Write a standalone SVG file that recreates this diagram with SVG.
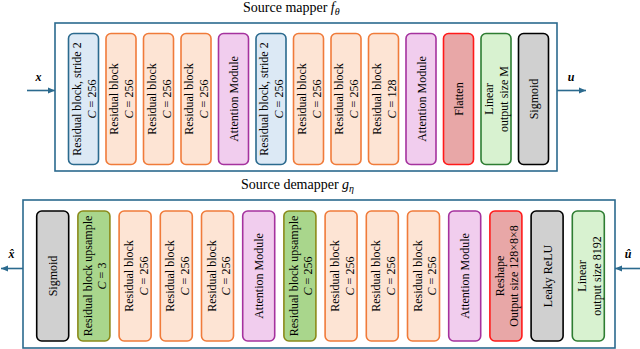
<svg xmlns="http://www.w3.org/2000/svg" width="640" height="349" viewBox="0 0 640 349">
<style>
text{font-family:"Liberation Serif","Times New Roman",serif;fill:#000}
.t{font-size:14px}
.v{font-size:12px;text-anchor:middle}
.m{font-size:12px;font-weight:bold;font-style:italic;text-anchor:middle}
.frame{fill:#fff;stroke:#2b6a8e;stroke-width:1.6}
.b{stroke-width:1.6}
.blue{fill:#dce9f5;stroke:#2b6a8e}
.or{fill:#fde4d4;stroke:#f07b3a}
.pu{fill:#f1cdee;stroke:#a5329e}
.red{fill:#e8a7a7;stroke:#ff1a1a}
.lg{fill:#d8f2d0;stroke:#2e7d32}
.gr{fill:#d0d0d0;stroke:#000}
.up{fill:#a9d68c;stroke:#8a8a1a}
.arr{stroke:#2b6a8e;stroke-width:1.6;fill:none;marker-end:url(#ah)}
</style>
<defs>
<marker id="ah" markerUnits="userSpaceOnUse" markerWidth="8" markerHeight="7" refX="7" refY="3.5" orient="auto">
<path d="M0,0.5 L7,3.5 L0,6.5 z" fill="#2b6a8e"/>
</marker>
</defs>
<rect width="640" height="349" fill="#fff"/>

<text class="t" x="243" y="12">Source mapper <tspan font-style="italic">f</tspan><tspan font-style="italic" font-size="10" dy="3">θ</tspan></text>
<rect class="frame" x="55" y="23" width="502" height="148"/>

<g id="m1"><rect class="b blue" x="68.5" y="33.5" width="30" height="131" rx="5"/><text class="v" transform="translate(83.5,99) rotate(-90)"><tspan x="0" y="-3">Residual block, stride 2</tspan><tspan x="0" y="12"><tspan font-style="italic">C</tspan> = 256</tspan></text></g>
<g id="m2"><rect class="b or" x="106" y="33.5" width="30" height="131" rx="5"/><text class="v" transform="translate(121,99) rotate(-90)"><tspan x="0" y="-3">Residual block</tspan><tspan x="0" y="12"><tspan font-style="italic">C</tspan> = 256</tspan></text></g>
<g id="m3"><rect class="b or" x="143.5" y="33.5" width="30" height="131" rx="5"/><text class="v" transform="translate(158.5,99) rotate(-90)"><tspan x="0" y="-3">Residual block</tspan><tspan x="0" y="12"><tspan font-style="italic">C</tspan> = 256</tspan></text></g>
<g id="m4"><rect class="b or" x="181" y="33.5" width="30" height="131" rx="5"/><text class="v" transform="translate(196,99) rotate(-90)"><tspan x="0" y="-3">Residual block</tspan><tspan x="0" y="12"><tspan font-style="italic">C</tspan> = 256</tspan></text></g>
<g id="m5"><rect class="b pu" x="218.5" y="33.5" width="30" height="131" rx="5"/><text class="v" transform="translate(233.5,99) rotate(-90)" y="4.5">Attention Module</text></g>
<g id="m6"><rect class="b blue" x="256" y="33.5" width="30" height="131" rx="5"/><text class="v" transform="translate(271,99) rotate(-90)"><tspan x="0" y="-3">Residual block, stride 2</tspan><tspan x="0" y="12"><tspan font-style="italic">C</tspan> = 256</tspan></text></g>
<g id="m7"><rect class="b or" x="293.5" y="33.5" width="30" height="131" rx="5"/><text class="v" transform="translate(308.5,99) rotate(-90)"><tspan x="0" y="-3">Residual block</tspan><tspan x="0" y="12"><tspan font-style="italic">C</tspan> = 256</tspan></text></g>
<g id="m8"><rect class="b or" x="331" y="33.5" width="30" height="131" rx="5"/><text class="v" transform="translate(346,99) rotate(-90)"><tspan x="0" y="-3">Residual block</tspan><tspan x="0" y="12"><tspan font-style="italic">C</tspan> = 256</tspan></text></g>
<g id="m9"><rect class="b or" x="368.5" y="33.5" width="30" height="131" rx="5"/><text class="v" transform="translate(383.5,99) rotate(-90)"><tspan x="0" y="-3">Residual block</tspan><tspan x="0" y="12"><tspan font-style="italic">C</tspan> = 128</tspan></text></g>
<g id="m10"><rect class="b pu" x="406" y="33.5" width="30" height="131" rx="5"/><text class="v" transform="translate(421,99) rotate(-90)" y="4.5">Attention Module</text></g>
<g id="m11"><rect class="b red" x="443.5" y="33.5" width="30" height="131" rx="5"/><text class="v" transform="translate(458.5,99) rotate(-90)" y="4.5">Flatten</text></g>
<g id="m12"><rect class="b lg" x="481" y="33.5" width="30" height="131" rx="5"/><text class="v" transform="translate(496,99) rotate(-90)"><tspan x="0" y="-3">Linear</tspan><tspan x="0" y="12">output size M</tspan></text></g>
<g id="m13"><rect class="b gr" x="518.5" y="33.5" width="30" height="131" rx="5"/><text class="v" transform="translate(533.5,99) rotate(-90)" y="4.5">Sigmoid</text></g>

<text class="t" x="241" y="189">Source demapper <tspan font-style="italic">g</tspan><tspan font-style="italic" font-size="10" dy="3">η</tspan></text>
<rect class="frame" x="23" y="200" width="592" height="148"/>

<g id="d1"><rect class="b gr" x="36.7" y="211" width="32" height="130" rx="5"/><text class="v" transform="translate(52.7,276) rotate(-90)" y="4.5">Sigmoid</text></g>
<g id="d2"><rect class="b up" x="77.9" y="211" width="32" height="130" rx="5"/><text class="v" transform="translate(93.9,276) rotate(-90)"><tspan x="0" y="-2">Residual block upsample</tspan><tspan x="0" y="12.5"><tspan font-style="italic">C</tspan> = 3</tspan></text></g>
<g id="d3"><rect class="b or" x="119.1" y="211" width="32" height="130" rx="5"/><text class="v" transform="translate(135.1,276) rotate(-90)"><tspan x="0" y="-2">Residual block</tspan><tspan x="0" y="12.5"><tspan font-style="italic">C</tspan> = 256</tspan></text></g>
<g id="d4"><rect class="b or" x="160.3" y="211" width="32" height="130" rx="5"/><text class="v" transform="translate(176.3,276) rotate(-90)"><tspan x="0" y="-2">Residual block</tspan><tspan x="0" y="12.5"><tspan font-style="italic">C</tspan> = 256</tspan></text></g>
<g id="d5"><rect class="b or" x="201.5" y="211" width="32" height="130" rx="5"/><text class="v" transform="translate(217.5,276) rotate(-90)"><tspan x="0" y="-2">Residual block</tspan><tspan x="0" y="12.5"><tspan font-style="italic">C</tspan> = 256</tspan></text></g>
<g id="d6"><rect class="b pu" x="242.7" y="211" width="32" height="130" rx="5"/><text class="v" transform="translate(258.7,276) rotate(-90)" y="4.5">Attention Module</text></g>
<g id="d7"><rect class="b up" x="283.9" y="211" width="32" height="130" rx="5"/><text class="v" transform="translate(299.9,276) rotate(-90)"><tspan x="0" y="-2">Residual block upsample</tspan><tspan x="0" y="12.5"><tspan font-style="italic">C</tspan> = 256</tspan></text></g>
<g id="d8"><rect class="b or" x="325.1" y="211" width="32" height="130" rx="5"/><text class="v" transform="translate(341.1,276) rotate(-90)"><tspan x="0" y="-2">Residual block</tspan><tspan x="0" y="12.5"><tspan font-style="italic">C</tspan> = 256</tspan></text></g>
<g id="d9"><rect class="b or" x="366.3" y="211" width="32" height="130" rx="5"/><text class="v" transform="translate(382.3,276) rotate(-90)"><tspan x="0" y="-2">Residual block</tspan><tspan x="0" y="12.5"><tspan font-style="italic">C</tspan> = 256</tspan></text></g>
<g id="d10"><rect class="b or" x="407.5" y="211" width="32" height="130" rx="5"/><text class="v" transform="translate(423.5,276) rotate(-90)"><tspan x="0" y="-2">Residual block</tspan><tspan x="0" y="12.5"><tspan font-style="italic">C</tspan> = 256</tspan></text></g>
<g id="d11"><rect class="b pu" x="448.7" y="211" width="32" height="130" rx="5"/><text class="v" transform="translate(464.7,276) rotate(-90)" y="4.5">Attention Module</text></g>
<g id="d12"><rect class="b red" x="489.9" y="211" width="32" height="130" rx="5"/><text class="v" transform="translate(505.9,276) rotate(-90)"><tspan x="0" y="-2">Reshape</tspan><tspan x="0" y="12.5">Output size 128×8×8</tspan></text></g>
<g id="d13"><rect class="b gr" x="531.1" y="211" width="32" height="130" rx="5"/><text class="v" transform="translate(547.1,276) rotate(-90)" y="4.5">Leaky ReLU</text></g>
<g id="d14"><rect class="b lg" x="572.3" y="211" width="32" height="130" rx="5"/><text class="v" transform="translate(588.3,276) rotate(-90)"><tspan x="0" y="-2">Linear</tspan><tspan x="0" y="12.5">output size 8192</tspan></text></g>

<g id="connectors">
<line class="arr" x1="27" y1="90.5" x2="55" y2="90.5"/>
<line class="arr" x1="557" y1="90.5" x2="586" y2="90.5"/>
<line class="arr" x1="640" y1="268.5" x2="615" y2="268.5"/>
<line class="arr" x1="23" y1="268.5" x2="1" y2="268.5"/>
<text class="m" x="38.5" y="81">x</text>
<text class="m" x="571" y="81">u</text>
<text class="m" x="628" y="258">û</text>
<text class="m" x="11.5" y="258">x̂</text>
</g>
</svg>
